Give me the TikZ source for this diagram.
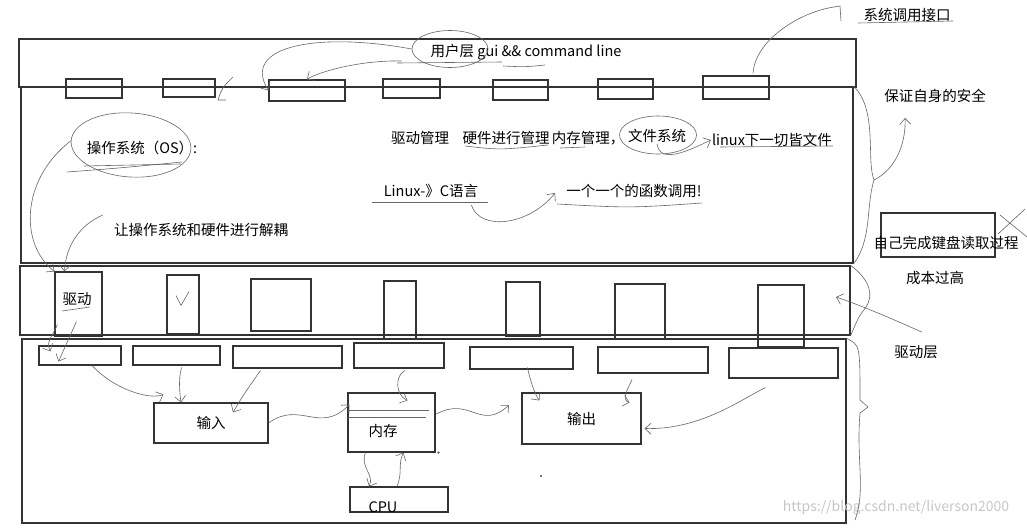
\documentclass[tikz,border=0pt]{standalone}
\usepackage{fontspec}
\setmainfont{Noto Sans CJK SC}
\usetikzlibrary{arrows.meta,shapes.geometric}

\begin{document}
\begin{tikzpicture}[x=1pt, y=-1pt,
    layer/.style={draw=black!80, line width=1.3pt, inner sep=0pt},
    slot/.style={draw=black!80, line width=1.1pt, inner sep=0pt},
    ink/.style={draw=black!60, line width=0.6pt},
    hand/.style={ink, -{Straight Barb[length=6pt, width=11pt]}},
    note/.style={font=\fontsize{14.5}{17}\selectfont, inner sep=1pt},
    ring/.style={ellipse, ink, inner sep=0pt}]

    % Page
    \fill[white] (0,0) rectangle (1027,527);
    \useasboundingbox (0,0) rectangle (1027,527);

    % Layers
    \node[layer, minimum width=832pt, minimum height=176pt] (os) at (437,175) {};
    \node[layer, minimum width=837pt, minimum height=48pt] (user) at (437.5,63) {};
    \node[layer, minimum width=830pt, minimum height=69pt] (drv) at (435,300.5) {};
    \node[layer, minimum width=824pt, minimum height=184pt] (hw) at (434,431) {};

    % System call slots
    \node[slot, minimum width=56pt, minimum height=19pt] (s1) at (94,88.5) {};
    \node[slot, minimum width=52pt, minimum height=18pt] (s2) at (189,88) {};
    \node[slot, minimum width=76pt, minimum height=21pt] (s3) at (307,90.5) {};
    \node[slot, minimum width=57pt, minimum height=19pt] (s4) at (411.5,88.5) {};
    \node[slot, minimum width=55pt, minimum height=20pt] (s5) at (520.5,90) {};
    \node[slot, minimum width=55pt, minimum height=20pt] (s6) at (625.5,89) {};
    \node[slot, minimum width=66pt, minimum height=23pt] (s7) at (736,87.5) {};

    % Drivers
    \node[slot, minimum width=47pt, minimum height=64pt] (d1) at (78.5,304) {};
    \node[slot, minimum width=32pt, minimum height=59pt] (d2) at (183,304.5) {};
    \node[slot, minimum width=60pt, minimum height=52pt] (d3) at (281,305) {};
    \node[slot, minimum width=32pt, minimum height=58pt] (d4) at (400,310) {};
    \node[slot, minimum width=34pt, minimum height=54pt] (d5) at (523,309) {};
    \node[slot, minimum width=50pt, minimum height=55pt] (d6) at (640,311.5) {};
    \node[slot, minimum width=46pt, minimum height=62pt] (d7) at (781,316) {};
    \node[note] (drvname) at (77,299) {驱动};
    \draw[ink] (d2.center) ++(-7,-9) -- ++(5,10) -- ++(8,-14);

    % Devices
    \node[slot, minimum width=82pt, minimum height=19pt] (h1) at (80,355.5) {};
    \node[slot, minimum width=87pt, minimum height=19pt] (h2) at (176.5,355.5) {};
    \node[slot, minimum width=109pt, minimum height=22pt] (h3) at (287.5,357) {};
    \node[slot, minimum width=90pt, minimum height=25pt] (h4) at (399,355.5) {};
    \node[slot, minimum width=103pt, minimum height=22pt] (h5) at (521.5,358) {};
    \node[slot, minimum width=110pt, minimum height=26pt] (h6) at (653,360) {};
    \node[slot, minimum width=109pt, minimum height=30pt] (h7) at (783.5,363) {};

    % Blocks
    \node[slot, note, minimum width=114pt, minimum height=40pt] (in) at (211,423) {输入};
    \node[slot, minimum width=87pt, minimum height=59pt] (mem) at (391.5,422.5) {};
    \node[note] (memname) at (383,431) {内存};
    \node[slot, note, minimum width=119pt, minimum height=51pt] (out) at (581.5,418.5) {输出};
    \node[slot, minimum width=98pt, minimum height=25pt] (cpu) at (399,499.5) {};
    \node[note, anchor=base] (cpuname) at (383,512) {CPU};
    \draw[ink] ([shift={(1,18)}]mem.north west) -- ([shift={(-7,18)}]mem.north east);
    \draw[ink] ([shift={(1,25)}]mem.north west) -- ([shift={(-10,25)}]mem.north east);
    \fill[black!70] ([shift={(3,0)}]mem.south east) circle (1.2);
    \fill[black!70] (541,476) circle (1.2);

    % Texts
    \node[note] (ulabel) at (526,52) {用户层 gui \&\& command line};
    \node[note] (call) at (907,15) {系统调用接口};
    \node[note] (safe) at (935,96) {保证自身的安全};
    \node[note] (ostext) at (142,148) {操作系统（OS）:};
    \node[note] (m1) at (420,138) {驱动管理};
    \node[note] (m2) at (506,138) {硬件进行管理};
    \node[note] (m3) at (588,138) {内存管理，};
    \node[note] (m4) at (657,136) {文件系统};
    \node[note] (m5) at (772,140) {linux下一切皆文件};
    \node[note] (lang) at (431,191) {Linux-》C语言};
    \node[note] (func) at (634,191) {一个一个的函数调用!};
    \node[note] (decouple) at (201,230) {让操作系统和硬件进行解耦};
    \node[slot, minimum width=114pt, minimum height=44pt] (kbd) at (938,235) {};
    \node[note] (kbdtext) at (946,243) {自己完成键盘读取过程};
    \node[note] (cost) at (935,278) {成本过高};
    \node[note] (lvl) at (916,352) {驱动层};
    \node[font=\fontsize{14}{16}\selectfont, text=black!22] (mark) at (896,508) {https://blog.csdn.net/liverson2000};

    % Rings and underlines
    \node[ring, minimum width=76pt, minimum height=37pt] (uring) at (450,49) {};
    \node[ring, minimum width=120pt, minimum height=64pt, rotate=-4] (osring) at (131,145) {};
    \node[ring, minimum width=77pt, minimum height=38pt] (fring) at (658,135) {};
    \draw[ink] (397,63) -- (502,62);
    \draw[ink] (503,66) .. controls (525,67) .. (545,65);
    \draw[ink] (858,23) -- (953,21);
    \draw[ink] (67,172) .. controls (120,168) .. (182,162);
    \draw[ink] (84,166) -- (181,164);
    \draw[ink] (465,146) .. controls (500,150) .. (548,145);
    \draw[ink] (560,148) -- (585,147);
    \draw[ink] (720,147) -- (833,146);
    \draw[ink] (372,202) -- (488,202);
    \draw[ink] (557,204) .. controls (630,208) .. (702,203);
    \draw[ink] (62,311) -- (90,307);

    % Connectors, upper part
    \draw[hand] (uring.west) .. controls (320,32) and (240,45) .. (s3.west);
    \draw[hand] ([shift={(-10,12)}]uring.west) .. controls (360,60) and (318,72) .. (s3.north);
    \draw[ink] (233,77) .. controls (222,88) .. (218,100) -- (226,100);
    \coordinate (calltip) at (834,7);
    \draw[ink] ([shift={(17,-2)}]s7.north) .. controls (755,40) and (800,12) .. (calltip);
    \draw[ink] (834,7) -- (840,6) -- (841,21);
    \draw[hand] (m4.south) .. controls (660,165) and (690,150) .. (m5.west);
    \coordinate (functip) at (555,193);
    \draw[hand] ([shift={(-8,6)}]lang.south east) .. controls (480,232) and (530,225) .. (functip);
    \draw[hand] (osring.west) .. controls (20,180) and (20,245) .. (d1.north west);
    \draw[hand] ([shift={(-10,-15)}]decouple.west) .. controls (80,225) and (66,245) .. ([shift={(10,0)}]d1.north west);
    \draw[hand] ([shift={(3,-12)}]d1.south west) .. controls +(-5,12) and +(-5,-10) .. ([shift={(12,6)}]h1.north west);
    \draw[hand] ([shift={(22,-15)}]d1.south west) -- ([shift={(20,-4)}]h1.south west);

    % Braces on the right
    \coordinate (bmid) at (874,180);
    \draw[ink] (os.north east) .. controls (878,110) and (866,160) .. (bmid)
        .. controls (866,205) and (872,240) .. (os.south east);
    \coordinate (safetip) at (905,118);
    \draw[hand] (bmid) .. controls (898,168) and (906,140) .. (safetip);
    \draw[ink] (drv.north east) .. controls (870,280) and (874,295) .. (866,307)
        .. controls (858,318) .. (drv.south east);
    \draw[ink] (hw.north east) .. controls (860,345) .. (860,400) -- (868,407) -- (860,413)
        .. controls (856,460) and (866,490) .. (855,520);
    \coordinate (drvtip) at (836,297);
    \draw[hand] ([shift={(6,-12)}]lvl.north) .. controls (895,320) and (860,305) .. (drvtip);
    \draw[ink] (1000,215) -- (1027,237);
    \draw[ink] (998,234) -- (1025,209);

    % Connectors, lower part
    \draw[hand] ([shift={(12,0)}]h1.south) .. controls (115,390) and (150,400) .. ([shift={(10,-8)}]in.north west);
    \draw[hand] ([shift={(5,2)}]h2.south) .. controls (178,380) and (180,395) .. ([shift={(-30,0)}]in.north);
    \draw[hand] ([shift={(-27,2)}]h3.south) .. controls (250,385) and (240,400) .. ([shift={(22,10)}]in.north);
    \draw[hand] ([shift={(6,2)}]h4.south) .. controls (395,375) and (395,395) .. ([shift={(16,8)}]mem.north);
    \draw[hand] (in.east) .. controls (300,400) and (320,435) .. ([shift={(2,12)}]mem.north west);
    \coordinate (outtip) at (509,405);
    \draw[hand] ([shift={(0,-8)}]mem.east) .. controls (470,395) and (480,432) .. (outtip);
    \draw[hand] ([shift={(6,-2)}]h5.south) .. controls (530,380) and (535,395) .. ([shift={(18,8)}]out.north west);
    \draw[hand] ([shift={(-21,6)}]h6.south) .. controls (630,385) and (620,400) .. ([shift={(-12,10)}]out.north east);
    \draw[hand] ([shift={(-18,9)}]h7.south) .. controls (740,400) and (700,430) .. ([shift={(3,10)}]out.east);
    \draw[hand] ([shift={(-26,0)}]mem.south) .. controls +(-6,15) and +(6,-12) .. ([shift={(-30,0)}]cpu.north);
    \draw[hand] ([shift={(-2,0)}]cpu.north) .. controls +(6,-15) and +(-6,12) .. ([shift={(12,0)}]mem.south);

\end{tikzpicture}
\end{document}
